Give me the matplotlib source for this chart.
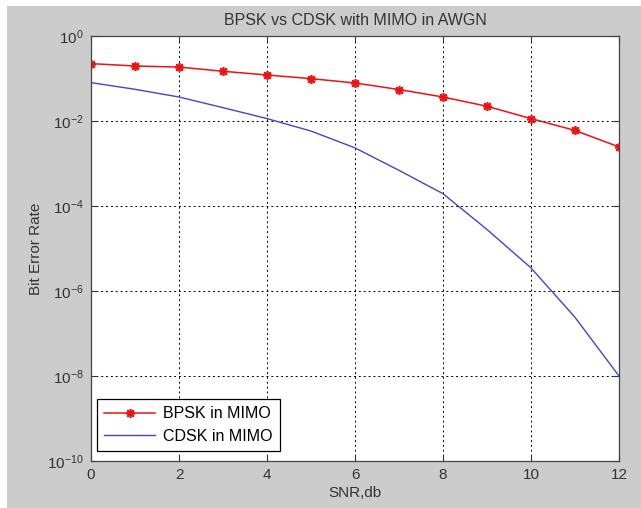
import matplotlib
matplotlib.use("Agg")
import matplotlib.pyplot as plt
from matplotlib.patches import Rectangle

plt.rcParams['font.family'] = ['Liberation Sans', 'DejaVu Sans']
plt.rcParams['mathtext.default'] = 'regular'

snr = [0, 1, 2, 3, 4, 5, 6, 7, 8, 9, 10, 11, 12]
ber_bpsk = [0.224, 0.197, 0.186, 0.148, 0.121, 0.0993, 0.0785, 0.055,
            0.0367, 0.0222, 0.0114, 0.006, 0.00245]
ber_cdsk = [0.08, 0.0557, 0.0367, 0.0206, 0.0114, 0.0058, 0.00233,
            6.9e-4, 1.95e-4, 2.8e-5, 3.5e-6, 2.4e-7, 1.0e-8]
xticks = [0, 2, 4, 6, 8, 10, 12]
yticks = [1e-10, 1e-8, 1e-6, 1e-4, 1e-2, 1e0]
ytick_labels = ['$10^{-10}$', '$10^{-8}$', '$10^{-6}$', '$10^{-4}$', '$10^{-2}$', '$10^{0}$']

W, H = 641, 508
fig = plt.figure(figsize=(W / 100, H / 100), dpi=100, facecolor='white')
fig.patches.append(Rectangle((7 / W, 0), 1 - 7 / W, 1 - 6 / H,
                             transform=fig.transFigure, facecolor='#cccccc',
                             edgecolor='none', zorder=-10))

ax = fig.add_axes([91 / W, 1 - 461 / H, 528 / W, 425 / H])
ax.set_facecolor('white')

ax.semilogy(snr, ber_bpsk, color='#ee1111', marker=(8, 2, 0), markersize=6.5,
            markeredgewidth=1.2, linewidth=1.1, label='BPSK in MIMO')
ax.semilogy(snr, ber_cdsk, color='#4444cc', linewidth=1.0, label='CDSK in MIMO')

ax.set_xlim(0, 12)
ax.set_ylim(1e-10, 1e0)
ax.set_xticks(xticks)
ax.set_xticklabels([str(t) for t in xticks])
ax.set_yticks(yticks)
ax.set_yticklabels(ytick_labels)
ax.minorticks_off()
ax.tick_params(direction='in', length=4, labelsize=11, colors='#333333',
               right=True, top=True, pad=5)
ax.grid(True, linestyle=(0, (2, 3)), color='black', linewidth=0.7)
for s in ax.spines.values():
    s.set_color('#444444')
    s.set_linewidth(0.9)

ax.set_title('BPSK vs CDSK with MIMO in AWGN', fontsize=11.5, color='#333333', pad=8)
ax.set_xlabel('SNR,db', fontsize=11, color='#333333', labelpad=3)
ax.set_ylabel('Bit Error Rate', fontsize=11, color='#333333', labelpad=3)

leg = ax.legend(loc='lower left', bbox_to_anchor=(0.011, 0.024), borderaxespad=0,
                fontsize=11.5, handlelength=3.2, handletextpad=0.5, fancybox=False,
                framealpha=1, edgecolor='black', borderpad=0.45, labelspacing=0.45)
leg.get_frame().set_linewidth(0.9)

fig.savefig('out.png', dpi=100, facecolor=fig.get_facecolor())
